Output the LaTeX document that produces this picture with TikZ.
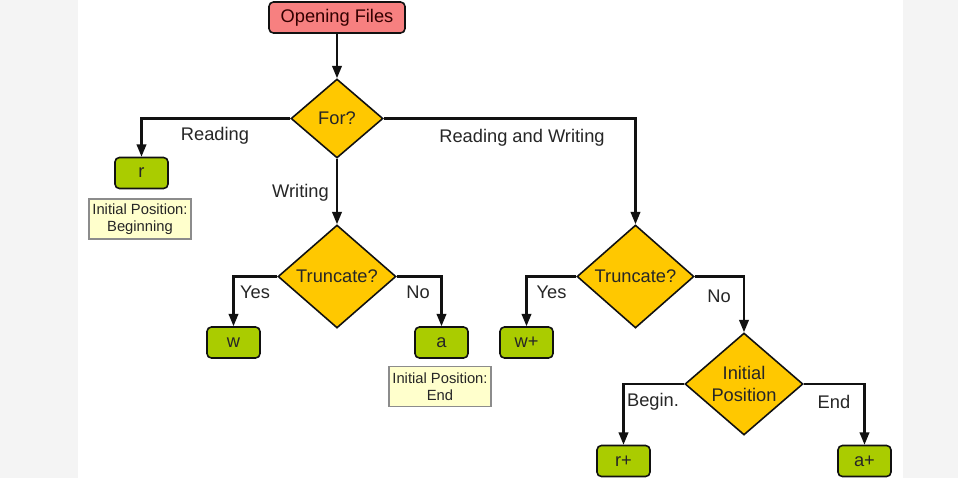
\documentclass[tikz,border=0pt]{standalone}
\usepackage{fontspec}
\setmainfont{Liberation Sans}
\usepackage{xcolor}
\usepackage{tikz}
\usetikzlibrary{positioning,shapes.geometric,arrows.meta}

\definecolor{startfill}{RGB}{247,128,128}
\definecolor{askfill}{RGB}{255,200,0}
\definecolor{modefill}{RGB}{170,204,0}
\definecolor{notefill}{RGB}{255,255,204}
\definecolor{linecol}{RGB}{17,17,17}
\definecolor{pagegray}{RGB}{244,244,244}

\begin{document}
\begin{tikzpicture}[
					x=0.02cm, y=-0.02cm,
					font=\fontsize{10.4}{12.5}\selectfont,
					% Style cho hop bat dau
					startbox/.style={draw=linecol, fill=startfill, rounded corners=2.5pt, line width=0.9pt,
						minimum width=2.72cm, minimum height=0.62cm, inner sep=0pt, text=black!80!red},
					% Style cho cau hoi (hinh thoi)
					ask/.style={diamond, draw=linecol, fill=askfill, line width=0.9pt, inner sep=0pt,
						aspect=1.15, align=center, text=black!85},
					% Style cho che do mo file
					mode/.style={draw=linecol, fill=modefill, rounded corners=2.5pt, line width=0.9pt,
						minimum width=1.06cm, minimum height=0.62cm, inner sep=0pt, text=black!85},
					% Style cho ghi chu
					note/.style={draw=black!45, fill=notefill, line width=0.6pt, align=center,
						minimum width=2.04cm, minimum height=0.8cm, inner sep=0pt,
						font=\fontsize{8.4}{9.6}\selectfont, text=black!85},
					% Style cho nhan tren mui ten
					lbl/.style={font=\fontsize{10.4}{12.5}\selectfont, text=black!85},
					% Style cho mui ten
					arr/.style={-{Triangle[length=7pt,width=5.4pt]}, draw=linecol, line width=1.2pt}
					]
					
					% ================= Nen =================
					\fill[pagegray] (0,0) rectangle (958,478);
					\fill[white] (78,0) rectangle (903,478);
					\useasboundingbox (0,0) rectangle (958,478);
					
					% ================= Cac nut =================
					\node[startbox] (open) at (337, 17.5) {Opening Files};
					\node[ask, minimum width=1.84cm, minimum height=1.58cm] (for) at (337, 118.5) {For?};
					
					% Nhanh Reading
					\node[mode] (r) at (141.5, 173) {r};
					\node[note] (noter) at (140, 219) {Initial Position:\\Beginning};
					
					% Nhanh Writing
					\node[ask, minimum width=2.36cm, minimum height=2.06cm] (trunc1) at (337, 276.5) {Truncate?};
					\node[mode] (w) at (233.5, 342.5) {w};
					\node[mode] (a) at (441.5, 342.5) {a};
					\node[note] (notea) at (440, 386.5) {Initial Position:\\End};
					
					% Nhanh Reading and Writing
					\node[ask, minimum width=2.34cm, minimum height=2.06cm] (trunc2) at (635.5, 276.5) {Truncate?};
					\node[mode] (wplus) at (526.5, 342.5) {w+};
					\node[ask, minimum width=2.36cm, minimum height=2.04cm] (initpos) at (744, 384) {Initial\\Position};
					\node[mode] (rplus) at (623.5, 461) {r+};
					\node[mode] (aplus) at (864.5, 461) {a+};
					
					% ================= Mui ten =================
					\draw[arr] (open) -- (for);
					\draw[arr] (for.west) -| (r.north);
					\draw[arr] (for) -- (trunc1);
					\draw[arr] (for.east) -| (trunc2.north);
					\draw[arr] (trunc1.west) -| (w.north);
					\draw[arr] (trunc1.east) -| (a.north);
					\draw[arr] (trunc2.west) -| (wplus.north);
					\draw[arr] (trunc2.east) -| (initpos.north);
					\draw[arr] (initpos.west) -| (rplus.north);
					\draw[arr] (initpos.east) -| (aplus.north);
					
					% ================= Nhan =================
					\node[lbl] (lread) at (215, 135.5) {Reading};
					\node[lbl] (lwrite) at (300.5, 192.5) {Writing};
					\node[lbl] (lboth) at (522, 137.5) {Reading and Writing};
					\node[lbl] (lyes1) at (255, 292.5) {Yes};
					\node[lbl] (lno1) at (418, 292.5) {No};
					\node[lbl] (lyes2) at (551.5, 292.5) {Yes};
					\node[lbl] (lno2) at (719, 296) {No};
					\node[lbl] (lbegin) at (653, 402) {Begin.};
					\node[lbl] (lend) at (834, 402) {End};
					
				\end{tikzpicture}
\end{document}
